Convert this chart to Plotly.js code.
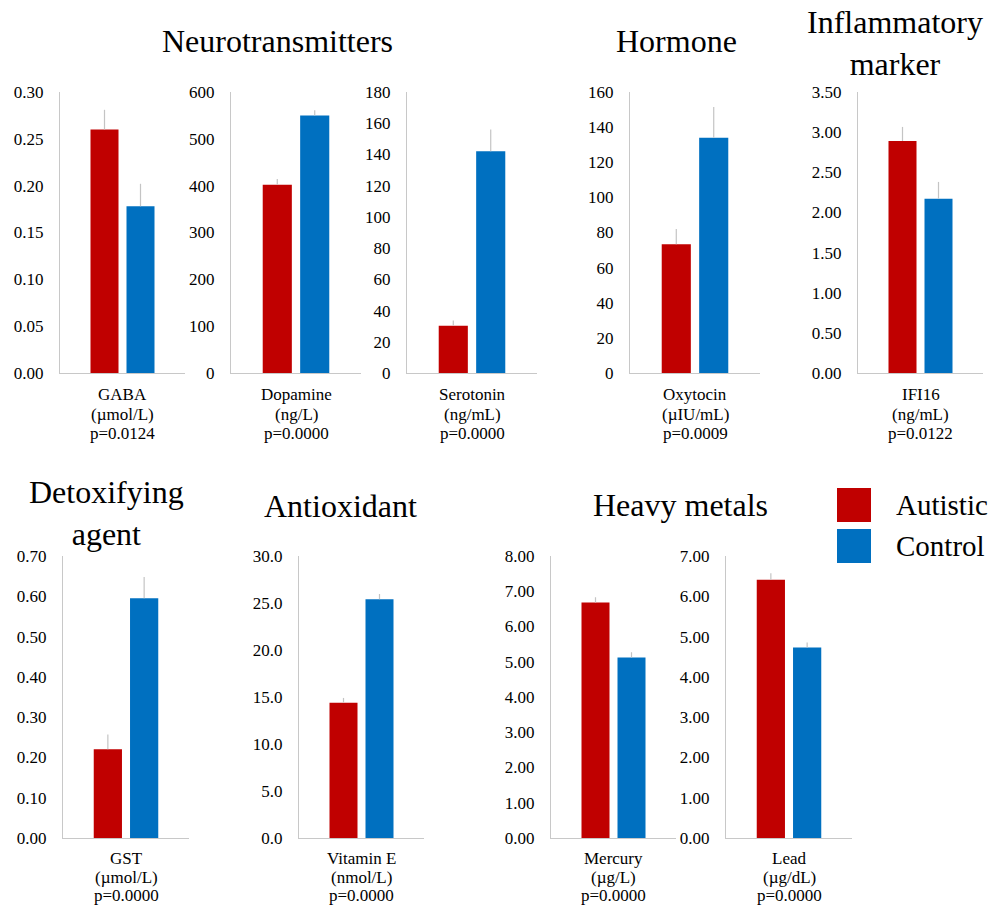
<!DOCTYPE html>
<html><head><meta charset="utf-8">
<script src="https://cdn.plot.ly/plotly-3.0.1.min.js"></script>
<style>html,body{margin:0;padding:0;background:#fff}#chart{width:1005px;height:906px}</style>
</head><body><div id="chart"></div>
<script>
// ---- data ----
const analytes = ["GABA", "Dopamine", "Serotonin", "Oxytocin", "IFI16",
                  "GST", "Vitamin E", "Mercury", "Lead"];
const units    = ["(µmol/L)", "(ng/L)", "(ng/mL)", "(µIU/mL)", "(ng/mL)",
                  "(µmol/L)", "(nmol/L)", "(µg/L)", "(µg/dL)"];
const pValues  = ["p=0.0124", "p=0.0000", "p=0.0000", "p=0.0009", "p=0.0122",
                  "p=0.0000", "p=0.0000", "p=0.0000", "p=0.0000"];
const seriesNames = ["Autistic", "Control"];
const autistic    = [0.260, 402, 30.2, 73.3, 2.89, 0.220, 14.4, 6.68, 6.41];
const autisticErr = [0.021, 12, 3.4, 8.7, 0.175, 0.037, 0.5, 0.15, 0.16];
const control     = [0.178, 550, 142.0, 134.0, 2.17, 0.595, 25.4, 5.12, 4.73];
const controlErr  = [0.024, 11, 14.0, 17.4, 0.21, 0.053, 0.56, 0.15, 0.12];
const yMax        = [0.30, 600, 180, 160, 3.50, 0.70, 30.0, 8.00, 7.00];
const yStep       = [0.05, 100, 20, 20, 0.50, 0.10, 5.0, 1.00, 1.00];
const yFormat     = [".2f", "d", "d", "d", ".2f", ".2f", ".1f", ".2f", ".2f"];
const groupTitles = ["Neurotransmitters", "Hormone", "Inflammatory<br>marker",
                     "Detoxifying<br>agent", "Antioxidant", "Heavy metals"];

// ---- layout geometry (pixels) ----
const W = 1005, H = 906;
const colors = ["#C00000", "#0070C0"];
const xDomPx = [[60,185],[231,361],[407,537],[630,760],[858,983],
                [63,189],[299,424],[551,676],[726,852]];
const rowOf = [0,0,0,0,0,1,1,1,1];
const yDomPx = [[92,373],[556,838]];
const labelOffsets = [[21, 41, 60], [20, 39, 57]];
const titlePos = [[277,41],[676,41],[895,43],[106,513],[340,506],[680,505]];
const FONT = "'Liberation Serif', 'Times New Roman', Times, serif";

const px2x = p => p / W;
const px2y = p => 1 - p / H;

const traces = [];
const layout = {
  width: W, height: H,
  margin: {l:0, r:0, t:0, b:0},
  paper_bgcolor: "#fff", plot_bgcolor: "#fff",
  barmode: "group", bargap: 0.424, bargroupgap: 0.222,
  showlegend: false,
  font: {family: FONT, size: 17, color: "#000"},
  annotations: [], shapes: []
};

analytes.forEach((cat, i) => {
  const xa = i === 0 ? "x" : "x" + (i + 1);
  const ya = i === 0 ? "y" : "y" + (i + 1);
  [autistic, control].forEach((vals, s) => {
    const errs = s === 0 ? autisticErr : controlErr;
    traces.push({
      type: "bar", name: seriesNames[s], x: [cat], y: [vals[i]],
      xaxis: xa, yaxis: ya,
      marker: {color: colors[s]},
      error_y: {type: "data", symmetric: false, array: [errs[i]], arrayminus: [0],
                color: "#c4c4c4", thickness: 1.2, width: 0},
      hoverinfo: "y"
    });
  });
  const xd = xDomPx[i], yd = yDomPx[rowOf[i]];
  layout["xaxis" + (i === 0 ? "" : i + 1)] = {
    domain: [px2x(xd[0]), px2x(xd[1])], anchor: ya,
    showline: true, linecolor: "#c8c8c8", linewidth: 1.2,
    showgrid: false, zeroline: false, ticks: "", fixedrange: true,
    showticklabels: false
  };
  layout["yaxis" + (i === 0 ? "" : i + 1)] = {
    domain: [px2y(yd[1]), px2y(yd[0])], anchor: xa,
    range: [0, yMax[i]], tick0: 0, dtick: yStep[i], tickformat: yFormat[i],
    showline: true, linecolor: "#c8c8c8", linewidth: 1.2,
    showgrid: false, zeroline: false, ticks: "", ticklabelstandoff: 12,
    fixedrange: true, tickfont: {family: FONT, size: 17, color: "#000"}
  };
  // category label (three lines) under each axis
  [analytes[i], units[i], pValues[i]].forEach((txt, k) => {
    layout.annotations.push({
      xref: xa, yref: "paper", x: cat,
      y: px2y(yd[1] + labelOffsets[rowOf[i]][k]),
      xanchor: "center", yanchor: "middle", showarrow: false, text: txt,
      font: {family: FONT, size: 17, color: "#000"}
    });
  });
});

groupTitles.forEach((t, k) => {
  layout.annotations.push({
    xref: "paper", yref: "paper", x: px2x(titlePos[k][0]), y: px2y(titlePos[k][1]),
    xanchor: "center", yanchor: "middle", showarrow: false, text: t,
    font: {family: FONT, size: 32, color: "#000"}
  });
});

// legend swatches + labels
seriesNames.forEach((n, s) => {
  const top = 488 + s * 41;
  layout.shapes.push({
    type: "rect", xref: "paper", yref: "paper",
    x0: px2x(837), x1: px2x(871), y0: px2y(top + 34), y1: px2y(top),
    fillcolor: colors[s], line: {width: 0}
  });
  layout.annotations.push({
    xref: "paper", yref: "paper", x: px2x(894), y: px2y(top + 17),
    xanchor: "left", yanchor: "middle", showarrow: false, text: n,
    font: {family: FONT, size: 29, color: "#000"}
  });
});

Plotly.newPlot("chart", traces, layout, {displayModeBar: false, staticPlot: true});
</script>
</body></html>
